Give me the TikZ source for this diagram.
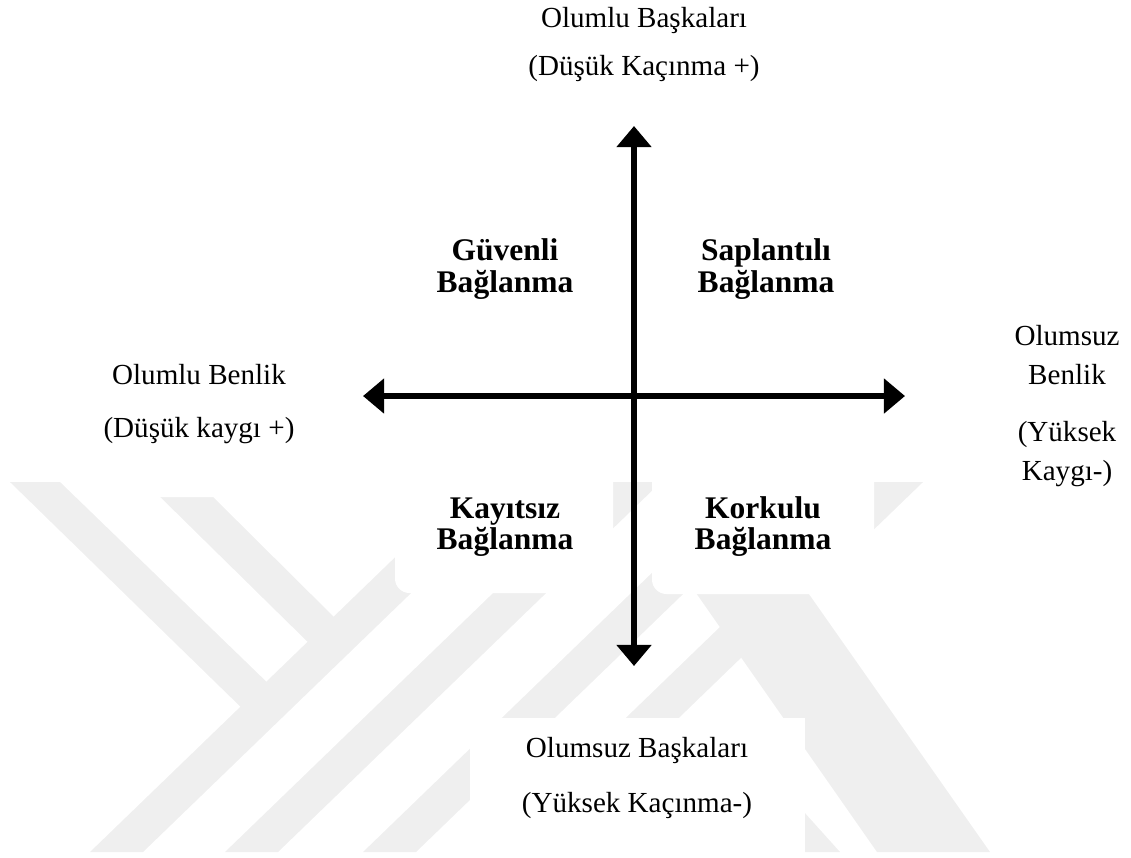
\documentclass[tikz,border=0pt]{standalone}
\usepackage{fontspec}
\setmainfont{Liberation Serif}
\usetikzlibrary{arrows.meta}
\definecolor{wmgray}{RGB}{239,239,239}
\begin{document}
\begin{tikzpicture}[x=0.4126pt, y=-0.4126pt,
  axis/.style={line width=2.76pt, {Triangle[length=8.7pt,width=14pt]}-{Triangle[length=8.7pt,width=14pt]}},
  quad/.style={font=\fontsize{13}{12.8}\selectfont\bfseries, align=center, inner sep=0pt, anchor=base},
  lbl/.style={align=center, inner sep=0pt, anchor=base},
  mask/.style={fill=white, rounded corners=6pt},
  wm/.style={fill=wmgray}]
  \useasboundingbox (0,0) rectangle (1131,857);

  \fill[wm] (10,482) -- (60,482) -- (275,690) -- (250,716) -- cycle;
  \fill[wm] (145,482) -- (198,482) -- (345,628) -- (320,654) -- cycle;
  \fill[wm] (90,852) -- (143,852) -- (526,482) -- (473,482) -- cycle;
  \fill[wm] (225,852) -- (278,852) -- (661,482) -- (608,482) -- cycle;
  \fill[wm] (363,852) -- (416,852) -- (799,482) -- (746,482) -- cycle;
  \fill[wm] (487,852) -- (540,852) -- (923,482) -- (870,482) -- cycle;
  \fill[wm] (673,560) -- (785,560) -- (990,852) -- (877,852) -- cycle;
  \fill[wm] (673,722) -- (723,722) -- (840,852) -- (790,852) -- cycle;

  \fill[mask] (90,300) rectangle (330,497);
  \fill[mask] (395,455) rectangle (613,593);
  \fill[mask] (652,455) rectangle (874,594);
  \fill[white] (470,718) rectangle (805,870);

  \node[lbl, font=\fontsize{12}{19.8}\selectfont] (othersup) at (644,75) {Olumlu Başkaları\\(Düşük Kaçınma +)};
  \node[lbl, font=\fontsize{12}{21.5}\selectfont] (selfleft) at (199,437) {Olumlu Benlik\\(Düşük kaygı +)};
  \node[lbl, font=\fontsize{12}{15.7}\selectfont] (selfright) at (1067,480) {Olumsuz\\Benlik\\[8.2pt](Yüksek\\Kaygı-)};
  \node[lbl, font=\fontsize{12}{22.7}\selectfont] (othersdown) at (637,812) {Olumsuz Başkaları\\(Yüksek Kaçınma-)};

  \node[quad] (secure) at (505,292) {Güvenli\\Bağlanma};
  \node[quad] (preoccupied) at (766,292) {Saplantılı\\Bağlanma};
  \node[quad] (dismissing) at (505,549) {Kayıtsız\\Bağlanma};
  \node[quad] (fearful) at (763,549) {Korkulu\\Bağlanma};

  \coordinate (othersplus) at (634,126);
  \coordinate (othersminus) at (634,666);
  \coordinate (selfplus) at (363,396);
  \coordinate (selfminus) at (905,396);

  \draw[axis] (othersminus) -- (othersplus);
  \draw[axis] (selfplus) -- (selfminus);
\end{tikzpicture}
\end{document}
